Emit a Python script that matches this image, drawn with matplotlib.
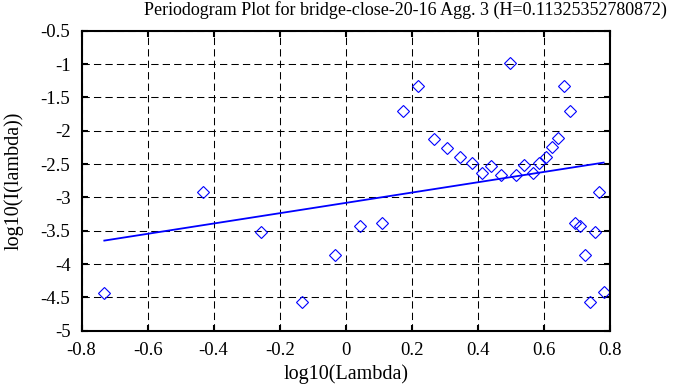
import matplotlib
matplotlib.use("Agg")
import matplotlib.pyplot as plt

# periodogram points: log10(lambda), log10(I(lambda))
log_lambda = [-0.731, -0.432, -0.257, -0.132, -0.033, 0.043, 0.110,
              0.172, 0.220, 0.268, 0.307, 0.345, 0.381, 0.412, 0.440,
              0.471, 0.496, 0.517, 0.541, 0.567, 0.586, 0.607, 0.625,
              0.644, 0.662, 0.679, 0.695, 0.710, 0.726, 0.740, 0.755,
              0.768, 0.781]
log_I = [-4.43, -2.92, -3.52, -4.57, -3.86, -3.43, -3.39,
         -1.70, -1.33, -2.12, -2.26, -2.40, -2.48, -2.63, -2.53,
         -2.67, -0.99, -2.67, -2.52, -2.63, -2.48, -2.40, -2.25,
         -2.11, -1.33, -1.70, -3.39, -3.43, -3.86, -4.57, -3.52,
         -2.92, -4.42]

# least squares fit, slope = 1 - 2H
H = 0.11325352780872
slope = 1 - 2 * H
intercept = -3.083
fit_x = [-0.731, 0.781]

xticks = [-0.8, -0.6, -0.4, -0.2, 0, 0.2, 0.4, 0.6, 0.8]
yticks = [-0.5, -1, -1.5, -2, -2.5, -3, -3.5, -4, -4.5, -5]

plt.rcParams["font.family"] = ["Liberation Serif", "DejaVu Serif"]

fig = plt.figure(figsize=(6.88, 3.87), dpi=100)
ax = fig.add_axes([0.1185, 0.1455, 0.768, 0.7752])

ax.plot(log_lambda, log_I, linestyle="none", marker="D", markersize=6.6,
        markerfacecolor="none", markeredgecolor="blue", markeredgewidth=0.8)
ax.plot(fit_x, [intercept + slope * x for x in fit_x], color="blue", lw=1.3)

ax.set_xlim(-0.8, 0.8)
ax.set_ylim(-5, -0.5)
ax.set_xticks(xticks)
ax.set_xticklabels([f"{t:g}" for t in xticks])
ax.set_yticks(yticks)
ax.set_yticklabels([f"{t:g}" for t in yticks])

ax.grid(True, color="black", linestyle=(0, (7, 4)), linewidth=0.75)
ax.tick_params(direction="in", length=4, width=1.5, top=True, right=True,
               labelsize=13.5, pad=8)
for s in ax.spines.values():
    s.set_linewidth(1.5)

ax.set_xlabel("log10(Lambda)", fontsize=14.5, labelpad=4)
ax.set_ylabel("log10(I(lambda))", fontsize=14.5, labelpad=12)
fig.text(0.59, 0.975, "Periodogram Plot for bridge-close-20-16 Agg. 3 (H=0.11325352780872)",
         ha="center", va="center", fontsize=13)

fig.savefig("out.png", dpi=100)
